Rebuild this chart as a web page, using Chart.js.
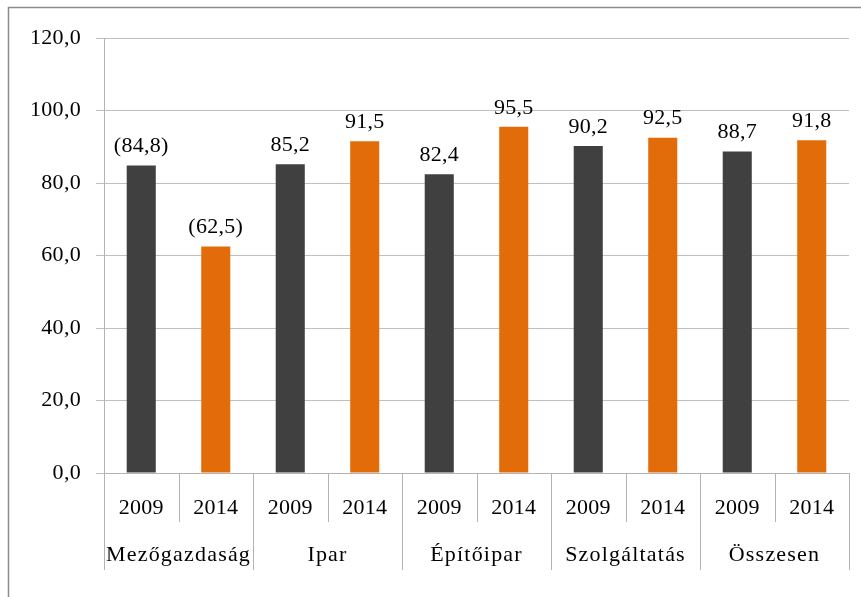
<!DOCTYPE html>
<html>
<head>
<meta charset="utf-8">
<script src="https://cdn.jsdelivr.net/npm/chart.js@4"></script>
<style>
    html, body { margin: 0; padding: 0; background: #ffffff; }
    #wrap { width: 861px; height: 597px; position: relative; }
</style>
</head>
<body>
<div id="wrap"><canvas id="barChart"></canvas></div>
<script>
// ======================================================
// DATA
// ======================================================
const groups = ["Mezőgazdaság", "Ipar", "Építőipar", "Szolgáltatás", "Összesen"];
const years = ["2009", "2014"];
const values2009 = [84.8, 85.2, 82.4, 90.2, 88.7];
const values2014 = [62.5, 91.5, 95.5, 92.5, 91.8];
const uncertain = [true, false, false, false, false];
const yTicks = [0, 20, 40, 60, 80, 100, 120];

const FONT = "'Liberation Serif', 'DejaVu Serif', serif";
const DARK = "#404040";
const ORANGE = "#e36c0a";

// one category per bar: group x year
const labels = [];
const barValues = [];
const barColors = [];
const barUncertain = [];
groups.forEach((g, i) => {
    labels.push(years[0], years[1]);
    barValues.push(values2009[i], values2014[i]);
    barColors.push(DARK, ORANGE);
    barUncertain.push(uncertain[i], uncertain[i]);
});

function fmt(v) {
    return v.toFixed(1).replace(".", ",");
}

// ======================================================
// PLUGINS
// ======================================================
const framePlugin = {
    id: "frame",
    beforeDraw(chart) {
        const c = chart.ctx;
        c.save();
        c.strokeStyle = "#8c8c8c";
        c.lineWidth = 1.5;
        c.beginPath();
        c.moveTo(8.5, 600);
        c.lineTo(8.5, 7.5);
        c.lineTo(870, 7.5);
        c.stroke();
        c.restore();
        // slightly wider digits for the tick labels
        c.letterSpacing = "0.3px";
    }
};

const valueLabels = {
    id: "valueLabels",
    afterDatasetsDraw(chart) {
        const c = chart.ctx;
        const meta = chart.getDatasetMeta(0);
        c.save();
        c.font = "22px " + FONT;
        c.letterSpacing = "0.3px";
        c.fillStyle = "#000000";
        c.textAlign = "center";
        c.textBaseline = "bottom";
        meta.data.forEach((bar, i) => {
            let txt = fmt(barValues[i]);
            if (barUncertain[i]) txt = "(" + txt + ")";
            c.fillText(txt, bar.x, bar.y - 8);
        });
        c.restore();
    }
};

const groupAxis = {
    id: "groupAxis",
    afterDraw(chart) {
        const c = chart.ctx;
        const x = chart.scales.x;
        const base = chart.chartArea.bottom;
        const step = (x.right - x.left) / labels.length;
        c.save();
        c.strokeStyle = "#b3b3b3";
        c.lineWidth = 1;
        for (let i = 0; i <= labels.length; i++) {
            const px = Math.round(x.left + i * step) + 0.5;
            c.beginPath();
            c.moveTo(px, base);
            c.lineTo(px, i % 2 === 0 ? base + 97 : base + 49);
            c.stroke();
        }
        c.font = "22px " + FONT;
        c.letterSpacing = "1.2px";
        c.fillStyle = "#000000";
        c.textAlign = "center";
        c.textBaseline = "middle";
        groups.forEach((g, i) => {
            const cx = x.left + (i * 2 + 1) * step;
            c.fillText(g, cx, base + 82);
        });
        c.restore();
    }
};

// ======================================================
// CHART
// ======================================================
new Chart(document.getElementById("barChart"), {
    type: "bar",
    data: {
        labels: labels,
        datasets: [{
            data: barValues,
            backgroundColor: barColors,
            borderWidth: 0,
            categoryPercentage: 1.0,
            barPercentage: 0.39
        }]
    },
    options: {
        responsive: true,
        maintainAspectRatio: false,
        animation: false,
        layout: {
            padding: { left: 9, right: 12, top: 38, bottom: 24 }
        },
        plugins: {
            legend: { display: false },
            tooltip: { enabled: false }
        },
        scales: {
            x: {
                grid: { display: false },
                border: { display: true, color: "#b3b3b3", width: 1 },
                ticks: {
                    color: "#000000",
                    font: { family: FONT, size: 22 },
                    padding: 14,
                    maxRotation: 0,
                    autoSkip: false
                },
                afterFit(scale) { scale.height = 100; }
            },
            y: {
                min: 0,
                max: 120,
                afterBuildTicks(scale) {
                    scale.ticks = yTicks.map(v => ({ value: v }));
                },
                grid: {
                    color: "#c0c0c0",
                    tickLength: 8
                },
                border: { display: true, color: "#b3b3b3", width: 1 },
                ticks: {
                    color: "#000000",
                    font: { family: FONT, size: 22 },
                    padding: 15,
                    callback: v => fmt(v)
                },
                afterFit(scale) { scale.width = 95; }
            }
        }
    },
    plugins: [framePlugin, valueLabels, groupAxis]
});
</script>
</body>
</html>
